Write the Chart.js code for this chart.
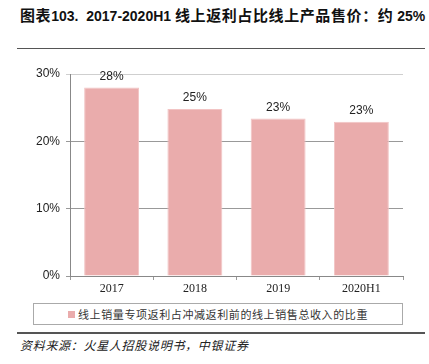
<!DOCTYPE html>
<html>
<head>
<meta charset="utf-8">
<script src="https://cdn.jsdelivr.net/npm/chart.js@4/dist/chart.umd.min.js"></script>
<style>
    body { margin: 0; background: #fff; }
    #wrap { position: relative; width: 429px; height: 364px; overflow: hidden; }
    #title { position: absolute; left: 20px; top: 4px; font: bold 14px "Liberation Sans", "Noto Sans CJK SC", sans-serif; color: #111; white-space: nowrap; }
    #title .cjk { font-size: 15px; letter-spacing: 0.6px; }
    .rule { position: absolute; left: 17px; width: 408px; background: #555; }
    #chartBox { position: absolute; left: 0; top: 0; width: 429px; height: 300px; }
    #legend { position: absolute; left: 33px; top: 303px; width: 368px; height: 20px; border: 1px solid #aaa; font: 11px "Noto Sans CJK SC", sans-serif; color: #333; display: flex; align-items: center; justify-content: center; letter-spacing: 0.6px; }
    #legend .mark { display: inline-block; width: 7px; height: 7px; margin-right: 3px; }
    #source { position: absolute; left: 20px; top: 336px; font: italic 12px "Noto Sans CJK SC", sans-serif; letter-spacing: 0.7px; color: #222; white-space: nowrap; }
</style>
</head>
<body>
<div id="wrap">
    <div id="title"><span class="cjk">图表</span>103.&nbsp; 2017-2020H1 <span class="cjk">线上返利占比线上产品售价：约</span> 25%</div>
    <div class="rule" style="top:48px;height:1px;"></div>
    <div id="chartBox"><canvas id="rebateChart"></canvas></div>
    <div id="legend"></div>
    <div class="rule" style="top:332px;height:2px;"></div>
    <div id="source">资料来源：火星人招股说明书，中银证券</div>
</div>
<script>
// --- 數據 ---
const years = ['2017', '2018', '2019', '2020H1'];
const rebateShare = [28.0, 24.8, 23.4, 22.9];
const yTicks = [0, 10, 20, 30];
const seriesName = '线上销量专项返利占冲减返利前的线上销售总收入的比重';
const barColor = '#EAACAC';

// 圖例 (帶框)
const legendEl = document.getElementById('legend');
legendEl.innerHTML = `<span class="mark" style="background:${barColor}"></span><span>${seriesName}</span>`;

// 柱頂數值標籤
const barLabelPlugin = {
    id: 'barLabels',
    afterDatasetsDraw(chart) {
        const ctx = chart.ctx;
        const meta = chart.getDatasetMeta(0);
        ctx.save();
        ctx.font = '12px "Liberation Sans", Arial, sans-serif';
        ctx.fillStyle = '#222';
        ctx.textAlign = 'center';
        ctx.textBaseline = 'bottom';
        meta.data.forEach((bar, i) => {
            ctx.fillText(Math.round(rebateShare[i]) + '%', bar.x, bar.y - 5);
        });
        ctx.restore();
    }
};

const canvas = document.getElementById('rebateChart');
new Chart(canvas.getContext('2d'), {
    type: 'bar',
    data: {
        labels: years,
        datasets: [{
            label: seriesName,
            data: rebateShare,
            backgroundColor: barColor,
            borderColor: '#F2C4C4',
            borderWidth: 1,
            categoryPercentage: 1,
            barPercentage: 0.66
        }]
    },
    options: {
        responsive: true,
        maintainAspectRatio: false,
        animation: false,
        layout: { padding: { top: 74, right: 26, left: 0, bottom: 0 } },
        plugins: {
            legend: { display: false },
            tooltip: { enabled: false }
        },
        scales: {
            y: {
                min: 0,
                max: 30,
                afterFit: s => { s.width = 70; },
                afterBuildTicks: s => { s.ticks = yTicks.map(v => ({ value: v })); },
                border: { color: '#888', width: 1 },
                grid: {
                    color: c => c.tick && c.tick.value === 30 ? '#cfcfcf' : '#999',
                    tickLength: 4
                },
                ticks: {
                    padding: 6,
                    color: '#222',
                    font: { family: '"Liberation Sans", Arial, sans-serif', size: 12 },
                    callback: v => v + '%'
                }
            },
            x: {
                afterFit: s => { s.height = 24; },
                border: { color: '#888', width: 1 },
                grid: {
                    offset: true,
                    drawOnChartArea: false,
                    color: '#999',
                    tickLength: 4
                },
                ticks: {
                    padding: 2,
                    color: '#222',
                    font: { family: '"Liberation Serif", "Times New Roman", serif', size: 12 }
                }
            }
        }
    },
    plugins: [barLabelPlugin]
});
</script>
</body>
</html>
